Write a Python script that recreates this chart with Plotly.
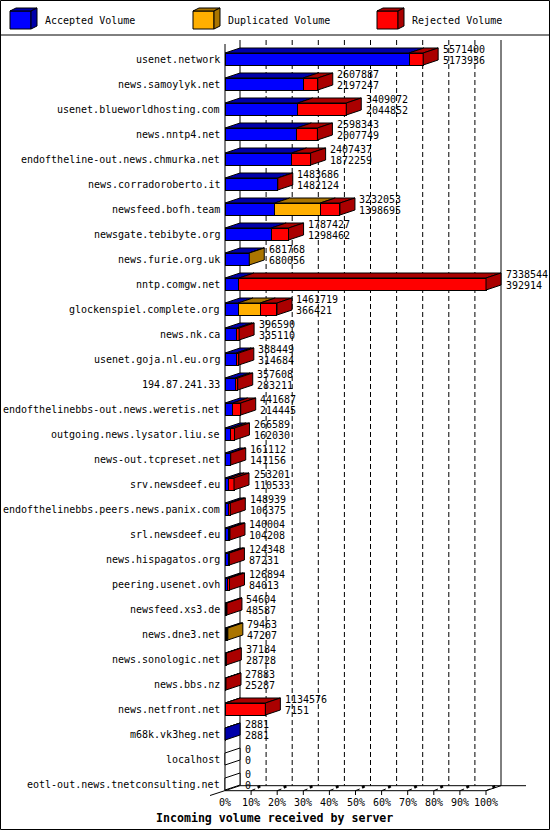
import plotly.graph_objects as go

hosts = [
    "usenet.network", "news.samoylyk.net", "usenet.blueworldhosting.com",
    "news.nntp4.net", "endoftheline-out.news.chmurka.net", "news.corradoroberto.it",
    "newsfeed.bofh.team", "newsgate.tebibyte.org", "news.furie.org.uk",
    "nntp.comgw.net", "glockenspiel.complete.org", "news.nk.ca",
    "usenet.goja.nl.eu.org", "194.87.241.33", "endofthelinebbs-out.news.weretis.net",
    "outgoing.news.lysator.liu.se", "news-out.tcpreset.net", "srv.newsdeef.eu",
    "endofthelinebbs.peers.news.panix.com", "srl.newsdeef.eu", "news.hispagatos.org",
    "peering.usenet.ovh", "newsfeed.xs3.de", "news.dne3.net",
    "news.sonologic.net", "news.bbs.nz", "news.netfront.net",
    "m68k.vk3heg.net", "localhost", "eotl-out.news.tnetconsulting.net",
]
offered = [5571400, 2607887, 3409072, 2598343, 2407437, 1483686, 3232053, 1787427,
           681768, 7338544, 1461719, 396590, 388449, 357608, 441687, 266589, 161112,
           253201, 148939, 140004, 124348, 126894, 54604, 79463, 37184, 27883,
           1134576, 2881, 0, 0]
accepted = [5173936, 2197247, 2044852, 2007749, 1872259, 1482124, 1398695, 1298462,
            680056, 392914, 366421, 335110, 314684, 283211, 214445, 162030, 141156,
            110533, 106375, 104208, 87231, 84013, 48587, 47207, 28728, 25287,
            7151, 2881, 0, 0]
duplicated = [0, 0, 0, 0, 0, 0, 1280000, 0, 1712, 0, 625000, 0, 0, 0, 0, 0, 0,
              0, 0, 0, 0, 0, 0, 32256, 0, 0, 0, 0, 0, 0]
rejected = [397464, 410640, 1364220, 590594, 535178, 1562, 553358, 488965, 0,
            6945630, 470298, 61480, 73765, 74397, 227242, 104559, 19956, 142668,
            42564, 35796, 37117, 42881, 6017, 0, 8456, 2596, 1127425, 0, 0, 0]
series_names = ["Accepted Volume", "Duplicated Volume", "Rejected Volume"]
pct_ticks = [0, 10, 20, 30, 40, 50, 60, 70, 80, 90, 100]
x_title = "Incoming volume received by server"

front_colors = ["#0000ff", "#ffaf00", "#ff0000"]
dark_colors = ["#0000aa", "#aa7500", "#aa0000"]
FONT = "DejaVu Sans Mono"

# pixel geometry of the picture
W, H = 550, 830
X0, SX = 225.0, 2.61     # pixel of 0 %, pixels per 1 %
Y0, SY = 59.0, 25.0      # first row centre, pixels per row


def px(x):
    return (x - X0) / SX


def py(y):
    return (y - Y0) / SY


dx = 15.0 / SX
dy = 5.0 / SY
hb = 6.0 / SY
peak = max(offered)
series = [accepted, duplicated, rejected]
rows = list(range(len(hosts)))

fig = go.Figure()
for name, vals, col in zip(series_names, series, front_colors):
    fig.add_trace(go.Bar(
        y=rows, x=[100.0 * v / peak for v in vals], orientation='h', width=2 * hb,
        name=name, marker=dict(color=col, line=dict(color='black', width=1)),
        showlegend=False, hoverinfo='skip'))

shapes = []


def poly(pts, fill, layer='above'):
    path = 'M' + ' L'.join(f'{x:.4f},{y:.4f}' for x, y in pts) + ' Z'
    shapes.append(dict(type='path', path=path, xref='x', yref='y', fillcolor=fill,
                       line=dict(color='black', width=1), layer=layer))


def line(x0, y0, x1, y1, dash='solid', width=1):
    shapes.append(dict(type='line', x0=x0, y0=y0, x1=x1, y1=y1, xref='x', yref='y',
                       line=dict(color='black', width=width, dash=dash), layer='below'))


# walls, grid and floor
for p in pct_ticks[1:-1]:
    line(p + dx, py(40), p + dx, py(785.7), dash='5px,3px')
line(100 + dx, py(40), 100 + dx, py(785.7))
line(0, py(44), 0, py(790.7))
line(dx, py(40), dx, py(785.7))
line(0, py(790.7), 100, py(790.7))
line(dx, py(785.7), px(526), py(785.7))
line(100, py(790.7), 100 + dx, py(785.7))
line(px(210), py(795.5), dx, py(785.7))
for p in pct_ticks[1:]:
    line(p, py(790.7), p, py(795))
    line(p, py(790.7), p + 1.6, py(789))
    line(p + 2.5, py(787.6), p + 3.5, py(786.2), width=2.5)

# top and side faces of the bars
for i in rows:
    yt, yb = i - hb, i + hb
    left, last = 0.0, None
    for k, vals in enumerate(series):
        w = 100.0 * vals[i] / peak
        if w <= 0:
            continue
        poly([(left, yt), (left + dx, yt - dy), (left + w + dx, yt - dy), (left + w, yt)],
             dark_colors[k])
        left += w
        last = k
    poly([(left, yt), (left + dx, yt - dy), (left + dx, yb - dy), (left, yb)],
         dark_colors[last] if last is not None else 'white')

# frame and legend
shapes.append(dict(type='rect', x0=px(0.5), y0=py(0.5), x1=px(549.5), y1=py(829.5),
                   xref='x', yref='y', line=dict(color='black', width=1), layer='above'))
shapes.append(dict(type='line', x0=px(0), y0=py(35), x1=px(550), y1=py(35),
                   xref='x', yref='y', line=dict(color='black', width=1), layer='above'))

annotations = []


def text(x, y, s, anchor='left', size=10, bold=False):
    annotations.append(dict(x=x, y=y, xref='x', yref='y', text=f'<b>{s}</b>' if bold else s,
                            showarrow=False, xanchor=anchor, yanchor='middle',
                            font=dict(family=FONT, size=size, color='black')))


for k, (name, x0) in enumerate(zip(series_names, [10, 193, 377])):
    poly([(px(x0), py(11)), (px(x0 + 21), py(11)), (px(x0 + 21), py(29)), (px(x0), py(29))],
         front_colors[k])
    poly([(px(x0), py(11)), (px(x0 + 6), py(8)), (px(x0 + 27), py(8)), (px(x0 + 21), py(11))],
         dark_colors[k])
    poly([(px(x0 + 21), py(11)), (px(x0 + 27), py(8)), (px(x0 + 27), py(26)), (px(x0 + 21), py(29))],
         dark_colors[k])
    text(px(x0 + 33), py(20.5), name)

for i in rows:
    text(px(222), i, hosts[i], anchor='right')
    xe = 100.0 * offered[i] / peak + dx + 2.5 / SX
    text(xe, i - 0.4, str(offered[i]))
    text(xe, i + 0.06, str(accepted[i]))

for p in pct_ticks:
    text(p, py(802), f'{p}%', anchor='center')
text(px(274), py(817.5), x_title, anchor='center', size=11.6, bold=True)

fig.update_layout(
    width=W, height=H, autosize=False,
    margin=dict(l=0, r=0, t=0, b=0, pad=0),
    barmode='stack',
    plot_bgcolor='white', paper_bgcolor='white',
    xaxis=dict(visible=False, range=[px(0), px(W)], fixedrange=True),
    yaxis=dict(visible=False, range=[py(H), py(0)], fixedrange=True),
    shapes=shapes, annotations=annotations,
    showlegend=False,
)
fig.write_html("out.html", config={'displayModeBar': False},
               post_script="document.body.style.margin='0';document.body.style.overflow='hidden';")
